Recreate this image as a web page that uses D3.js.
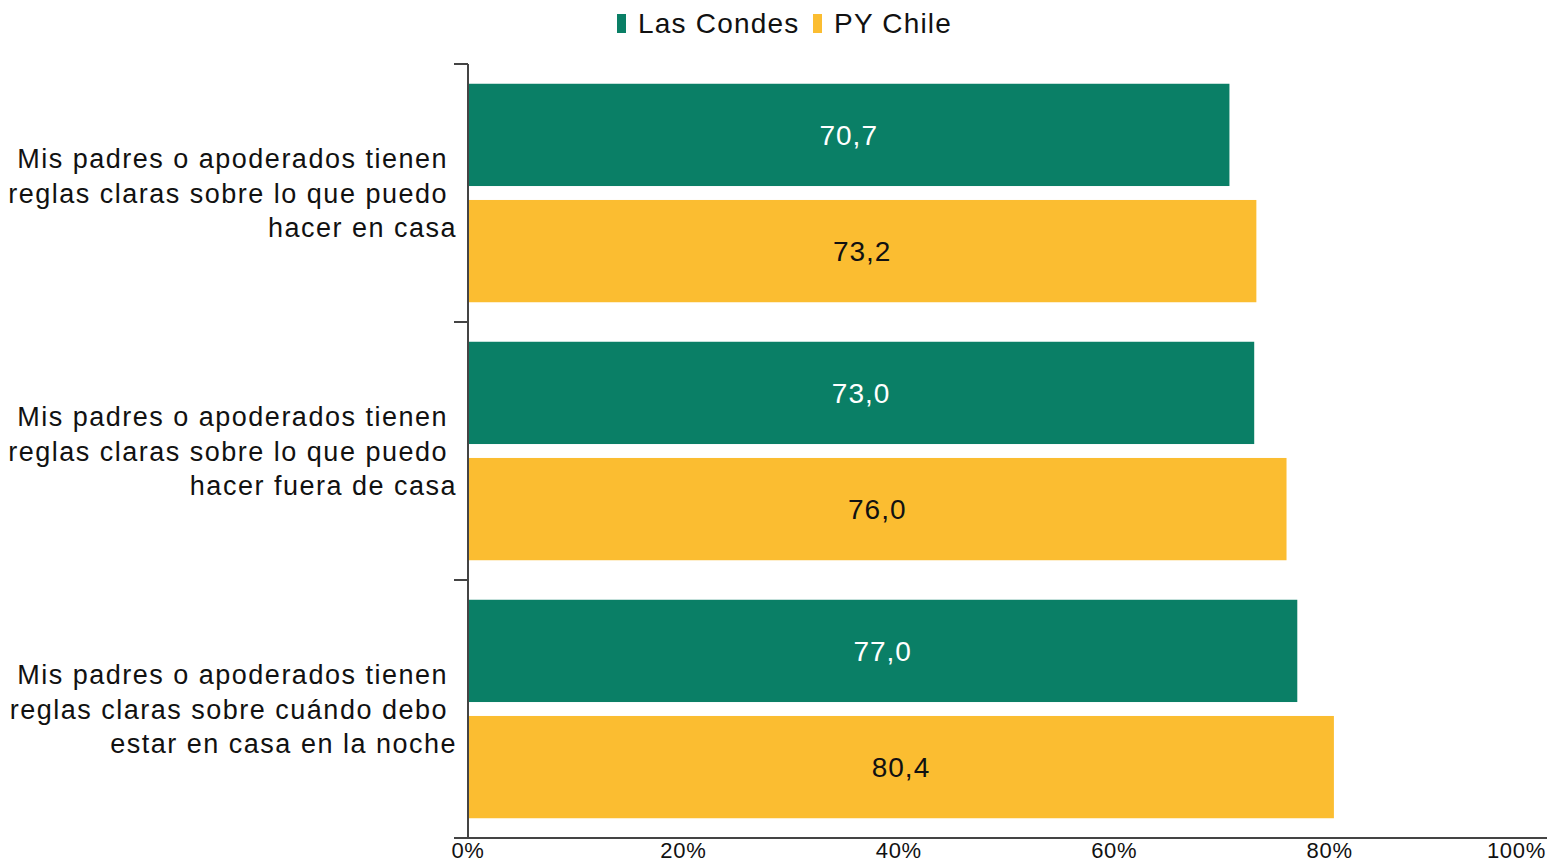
<!DOCTYPE html>
<html>
<head>
<meta charset="utf-8">
<script src="https://cdn.jsdelivr.net/npm/d3@7"></script>
<style>
  html, body { margin: 0; padding: 0; background: #fff; }
  svg { display: block; font-family: "Liberation Sans", Arial, sans-serif; }
</style>
</head>
<body>
<svg id="chart" width="1549" height="862"></svg>
<script>
const categories = [
  ["Mis padres o apoderados tienen ", "reglas claras sobre lo que puedo ", "hacer en casa"],
  ["Mis padres o apoderados tienen ", "reglas claras sobre lo que puedo ", "hacer fuera de casa"],
  ["Mis padres o apoderados tienen ", "reglas claras sobre cuándo debo ", "estar en casa en la noche"]
];
const seriesNames = ["Las Condes", "PY Chile"];
const lasCondes = [70.7, 73.0, 77.0];
const pyChile = [73.2, 76.0, 80.4];
const xTicks = [0, 20, 40, 60, 80, 100];
const colors = ["#0A7F66", "#FBBD31"];
const labelColors = ["#ffffff", "#111111"];

const svg = d3.select("#chart");
const margin = {left: 468, top: 64};

const x = d3.scaleLinear().domain([0, 100]).range([margin.left, 1545]);
const y = d3.scaleBand().domain(d3.range(categories.length)).range([margin.top, 838]).paddingInner(0).paddingOuter(0);
const inner = d3.scaleBand().domain([0, 1]).range([0, y.bandwidth()]).paddingInner(0.12).paddingOuter(0.17);

const series = [lasCondes, pyChile];

// bars
series.forEach((vals, si) => {
  const g = svg.append("g");
  g.selectAll("rect").data(vals).enter().append("rect")
    .attr("x", x(0))
    .attr("y", (d, i) => y(i) + inner(si))
    .attr("width", d => x(d) - x(0))
    .attr("height", inner.bandwidth())
    .attr("fill", colors[si]);
  g.selectAll("text").data(vals).enter().append("text")
    .attr("x", d => (x(0) + x(d)) / 2)
    .attr("y", (d, i) => y(i) + inner(si) + inner.bandwidth() / 2)
    .attr("dy", "0.36em")
    .attr("text-anchor", "middle")
    .attr("font-size", 28)
    .attr("letter-spacing", 1)
    .attr("fill", labelColors[si])
    .text(d => d3.format(".1f")(d).replace(".", ","));
});

// x axis
const xAxis = svg.append("g").attr("transform", `translate(0,838)`);
xAxis.append("line").attr("x1", 454).attr("x2", 1547).attr("y1", 0).attr("y2", 0)
  .attr("stroke", "#444").attr("stroke-width", 2);
xAxis.selectAll("text").data(xTicks).enter().append("text")
  .attr("x", d => d === 100 ? x(d) + 1 : x(d))
  .attr("y", 20)
  .attr("text-anchor", d => d === 100 ? "end" : "middle")
  .attr("font-size", 22)
  .attr("letter-spacing", 0.7)
  .attr("fill", "#111")
  .text(d => d + "%");

// y axis
const yAxis = svg.append("g");
yAxis.append("line").attr("x1", x(0)).attr("x2", x(0)).attr("y1", margin.top).attr("y2", 838)
  .attr("stroke", "#444").attr("stroke-width", 2);
const tickYs = [0, 1, 2].map(i => y(i));
yAxis.selectAll("line.tick").data(tickYs).enter().append("line").attr("class", "tick")
  .attr("x1", 454).attr("x2", x(0)).attr("y1", d => d).attr("y2", d => d)
  .attr("stroke", "#444").attr("stroke-width", 2);

// category labels
categories.forEach((lines, i) => {
  const cy = y(i) + y.bandwidth() / 2;
  const t = svg.append("text")
    .attr("text-anchor", "end")
    .attr("font-size", 27)
    .attr("letter-spacing", 1.5)
    .attr("fill", "#111")
    .style("white-space", "pre");
  lines.forEach((ln, j) => {
    t.append("tspan")
      .attr("x", 457)
      .attr("y", cy + (j - 1) * 34.5)
      .attr("dy", "0.36em")
      .text(ln);
  });
});

// legend
const legend = svg.append("g");
const legendItems = [{name: seriesNames[0], x: 617}, {name: seriesNames[1], x: 813}];
legendItems.forEach((it, i) => {
  legend.append("rect").attr("x", it.x).attr("y", 14).attr("width", 9).attr("height", 19).attr("fill", colors[i]);
  legend.append("text").attr("x", it.x + 21).attr("y", 23).attr("dy", "0.36em")
    .attr("font-size", 28).attr("letter-spacing", 1.2).attr("fill", "#111").text(it.name);
});
</script>
</body>
</html>
